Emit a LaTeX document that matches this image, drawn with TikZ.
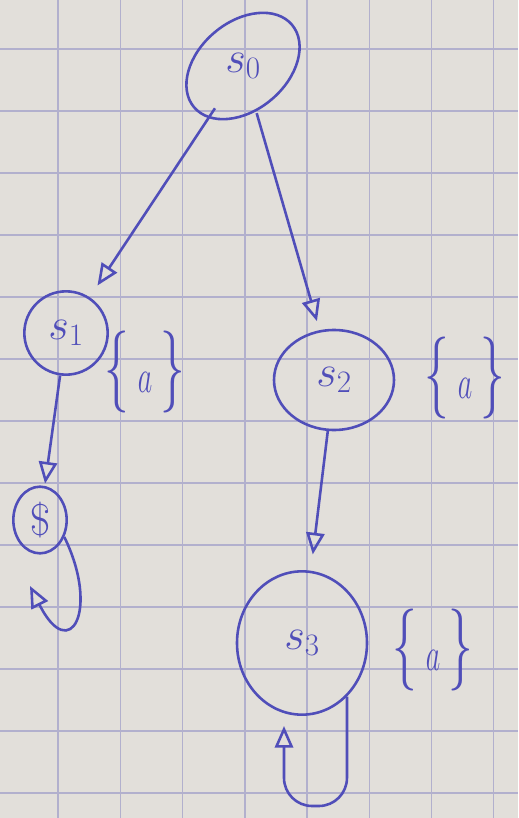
\RequirePackage{fix-cm}
\documentclass[tikz,border=0pt]{standalone}
\usepackage{amsmath}
\usepackage{tikz}
\usetikzlibrary{shapes.geometric, arrows.meta, positioning, backgrounds}

\definecolor{ink}{RGB}{80,78,185}
\definecolor{paper}{RGB}{226,223,218}
\definecolor{gridline}{RGB}{178,176,205}

\newcommand{\aset}{$\{\,${\fontsize{40}{44}\selectfont$a$}$\,\}$}

\begin{document}
\begin{tikzpicture}[
    x=0.03cm, y=-0.03cm,
    every node/.style={font=\fontsize{38}{42}\selectfont, text=ink},
    state/.style={ellipse, draw=ink, line width=2.2pt, inner sep=0pt},
    setlbl/.style={font=\fontsize{70}{74}\selectfont, xscale=0.6},
    arrow/.style={-{Triangle[open, length=6.5mm, width=5.5mm]}, draw=ink, line width=2.2pt}
  ]

  % Paper and squares
  \useasboundingbox (0,0) rectangle (518,818);
  \fill[paper] (0,0) rectangle (518,818);
  \foreach \i in {0,...,8}
    \draw[gridline, line width=1.2pt] (-4+62.2*\i,0) -- (-4+62.2*\i,818);
  \foreach \j in {0,...,12}
    \draw[gridline, line width=1.2pt] (0,49+62*\j) -- (518,49+62*\j);

  % Top: initial state
  \node[ellipse, minimum width=3.4cm, minimum height=2.9cm] (s0) at (243,66) {$s_0$};
  \draw[ink, line width=2.2pt, rotate around={40:(s0.center)}] (s0.center) ellipse (64 and 44);

  % Middle row
  \node[state, minimum size=2.5cm] (s1) at (66,333) {$s_1$};
  \node[setlbl] (l1) at (145,372) {\aset};
  \node[state, minimum width=3.6cm, minimum height=3.0cm] (s2) at (334,380) {$s_2$};
  \node[setlbl] (l2) at (465,378) {\aset};

  % Lower row
  \node[state, minimum width=1.6cm, minimum height=2.0cm] (sink) at (40,520) {$\$$};
  \node[state, minimum width=3.9cm, minimum height=4.3cm] (s3) at (302,643) {$s_3$};
  \node[setlbl] (l3) at (433,650) {\aset};

  % Connections
  \draw[arrow, shorten >=12] (s0) -- (s1);
  \draw[arrow, shorten >=8] (s0) -- (s2);
  \draw[arrow, shorten >=2] (s1) -- (sink);
  \draw[arrow, shorten >=14] (s2) -- (s3);

  % Self loops
  \coordinate (sinkloop) at (30,586);
  \draw[arrow] (sink.-35) .. controls (100,610) and (70,665) .. (sinkloop);
  \coordinate (s3loop) at (284,726);
  \draw[arrow, rounded corners=24] (s3.-50) |- (284,806) -- (s3loop);

\end{tikzpicture}
\end{document}
